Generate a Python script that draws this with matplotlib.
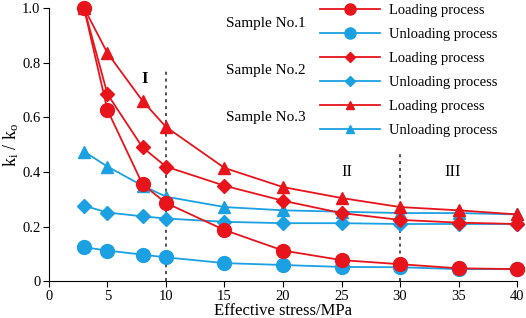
import matplotlib
matplotlib.use("Agg")
import matplotlib.pyplot as plt

plt.rcParams['font.family'] = ['Liberation Serif', 'DejaVu Serif']
plt.rcParams['mathtext.fontset'] = 'custom'
plt.rcParams['mathtext.rm'] = 'Liberation Serif'
plt.rcParams['mathtext.it'] = 'Liberation Serif'

stress = [3, 5, 8, 10, 15, 20, 25, 30, 35, 40]

s1_load = [1.0, 0.627, 0.355, 0.287, 0.188, 0.113, 0.078, 0.063, 0.048, 0.045]
s1_unload = [0.125, 0.113, 0.098, 0.088, 0.067, 0.060, 0.053, 0.052, 0.045, 0.045]
s2_load = [1.0, 0.685, 0.49, 0.42, 0.35, 0.295, 0.25, 0.225, 0.215, 0.21]
s2_unload = [0.277, 0.252, 0.238, 0.23, 0.218, 0.213, 0.213, 0.21, 0.21, 0.21]
s3_load = [1.0, 0.835, 0.66, 0.565, 0.415, 0.345, 0.305, 0.272, 0.26, 0.245]
s3_unload = [0.475, 0.42, 0.35, 0.31, 0.272, 0.26, 0.255, 0.25, 0.25, 0.245]

samples = ['Sample No.1', 'Sample No.2', 'Sample No.3']
yticks = [0, 0.2, 0.4, 0.6, 0.8, 1.0]
ytick_labels = ['0', '0.2', '0.4', '0.6', '0.8', '1.0']

red = '#e8141c'
blue = '#1ba1e2'

fig = plt.figure(figsize=(5.26, 3.18), dpi=100)
ax = fig.add_axes([0.093, 0.115, 0.89, 0.86])

series = [
    (s1_unload, blue, 'o', 10),
    (s2_unload, blue, 'D', 7),
    (s3_unload, blue, '^', 8),
    (s1_load, red, 'o', 10),
    (s2_load, red, 'D', 7),
    (s3_load, red, '^', 8),
]
lines = {}
for vals, c, m, ms in series:
    ln, = ax.plot(stress, vals, color=c, marker=m, markersize=ms, lw=1.3,
                  clip_on=False, zorder=3)
    lines[(c, m)] = ln

# region dividers
ax.plot([10, 10], [0, 0.78], ls=(0, (2, 2.5)), color='#222222', lw=1.1, zorder=2)
ax.plot([30, 30], [0, 0.47], ls=(0, (2, 2.5)), color='#222222', lw=1.1, zorder=2)
ax.text(8.2, 0.74, 'I', fontsize=12, fontweight='bold', ha='center', va='center')
ax.text(25.5, 0.40, 'II', fontsize=12, ha='center', va='center')
ax.text(34.5, 0.40, 'III', fontsize=12, ha='center', va='center')

ax.set_xlim(0, 40)
ax.set_ylim(0, 1.0)
ax.set_xticks(range(0, 41, 5))
ax.set_yticks(yticks)
ax.set_yticklabels(ytick_labels)
ax.spines['top'].set_visible(False)
ax.spines['right'].set_visible(False)
ax.tick_params(labelsize=10.5, direction='out', length=4, pad=2)
ax.set_xlabel('Effective stress/MPa', fontsize=12, labelpad=0)
ax.set_ylabel(r'$\mathrm{k_i}$ / $\mathrm{k_o}$', fontsize=13, labelpad=1)

handles = []
labels = []
for m in ['o', 'D', '^']:
    handles += [lines[(red, m)], lines[(blue, m)]]
    labels += ['Loading process', 'Unloading process']
leg = ax.legend(handles, labels, loc='upper left', bbox_to_anchor=(0.566, 1.035),
                frameon=False, fontsize=10.5, labelspacing=0.73, handlelength=4.1,
                handletextpad=0.65, borderaxespad=0)
for h in leg.legend_handles:
    h.set_markersize(h.get_markersize() * 0.8)

for i, s in enumerate(samples):
    fig.text(0.43, 1 - (24 + i * 46.5) / 318, s, fontsize=11, ha='left', va='center')

fig.savefig('out.png', dpi=100)
